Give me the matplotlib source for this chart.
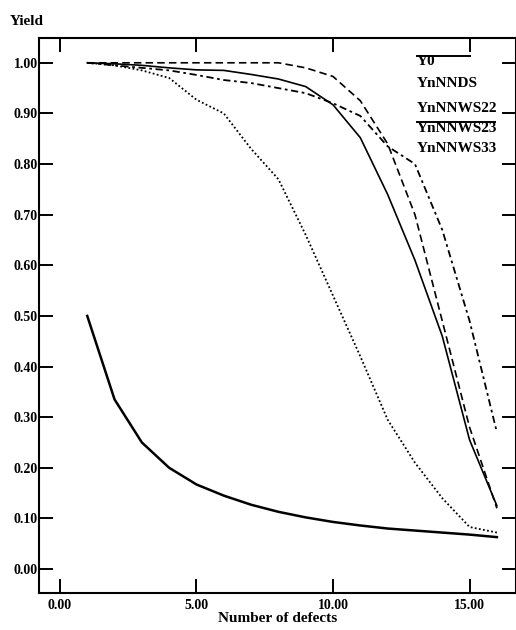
import numpy as np
import matplotlib
matplotlib.use('Agg')
import matplotlib.pyplot as plt

# values
defects = list(range(1, 17))
y0 = [0.50, 0.335, 0.25, 0.20, 0.167, 0.145, 0.127, 0.113,
      0.102, 0.093, 0.086, 0.080, 0.076, 0.072, 0.068, 0.063]
yn_nnds = [1.00, 0.998, 0.995, 0.99, 0.986, 0.985, 0.977, 0.968,
           0.953, 0.917, 0.852, 0.74, 0.61, 0.46, 0.255, 0.125]
yn_nnws22 = [1.00, 0.995, 0.985, 0.97, 0.927, 0.90, 0.83, 0.77,
             0.66, 0.54, 0.42, 0.295, 0.21, 0.14, 0.083, 0.072]
yn_nnws23 = [1.00, 1.00, 1.00, 1.00, 1.00, 1.00, 1.00, 1.00,
             0.99, 0.973, 0.925, 0.84, 0.70, 0.49, 0.28, 0.12]
yn_nnws33 = [1.00, 0.995, 0.99, 0.985, 0.976, 0.966, 0.96, 0.95,
             0.94, 0.92, 0.895, 0.835, 0.80, 0.67, 0.49, 0.27]

names = ['Y0', 'YnNNDS', 'YnNNWS22', 'YnNNWS23', 'YnNNWS33']
xticks = [0, 5, 10, 15]
yticks = [i / 10 for i in range(11)]

font = 'Liberation Serif'

fig = plt.figure(figsize=(5.16, 6.30), dpi=100, facecolor='white')
ax = fig.add_axes([0.0756, 0.0587, 0.9244, 0.881])

ax.plot(defects, y0, color='black', lw=1.8, ls='-')
ax.plot(defects, yn_nnds, color='black', lw=1.2, ls='-')
ax.plot(defects, yn_nnws22, color='black', lw=1.3, ls=(0, (1, 1.3)))
ax.plot(defects, yn_nnws23, color='black', lw=1.2, ls=(0, (4.5, 2.5)))
ax.plot(defects, yn_nnws33, color='black', lw=1.3, ls=(0, (4, 2, 1.5, 2)))

ax.set_xlim(-0.766, 16.7)
ax.set_ylim(-0.0474, 1.049)

ax.set_xticks(xticks)
ax.set_xticklabels([f'{v:.2f}' for v in xticks])
ax.set_yticks(yticks)
ax.set_yticklabels([f'{v:.2f}' for v in yticks])

ax.tick_params(axis='x', direction='in', length=10, width=1.4,
               top=True, pad=4)
ax.tick_params(axis='y', direction='in', length=10, width=1.4,
               right=True, pad=1)
for lbl in ax.get_xticklabels() + ax.get_yticklabels():
    lbl.set_fontfamily(font)
    lbl.set_fontweight('bold')
    lbl.set_fontsize(10)

for spine in ax.spines.values():
    spine.set_linewidth(1.5)

ax.set_xlabel('Number of defects', fontfamily=font, fontweight='bold',
              fontsize=11, labelpad=0)
fig.text(10 / 516, 1 - 25 / 630, 'Yield', fontfamily=font,
         fontweight='bold', fontsize=11, ha='left', va='baseline')

# legend as in the scan: names only, odd sample lines
leg_x = 0.792
leg_y = [0.951, 0.912, 0.867, 0.831, 0.794]
for name, yy in zip(names, leg_y):
    ax.text(leg_x, yy, name, transform=ax.transAxes, fontfamily=font,
            fontweight='bold', fontsize=11, ha='left', va='baseline')
ax.plot([leg_x, 0.904], [0.9676, 0.9676], transform=ax.transAxes,
        color='black', lw=1.4)
ax.plot([leg_x, 0.955], [0.849, 0.849], transform=ax.transAxes,
        color='black', lw=1.4)

fig.savefig('out.png', dpi=100, facecolor='white')
